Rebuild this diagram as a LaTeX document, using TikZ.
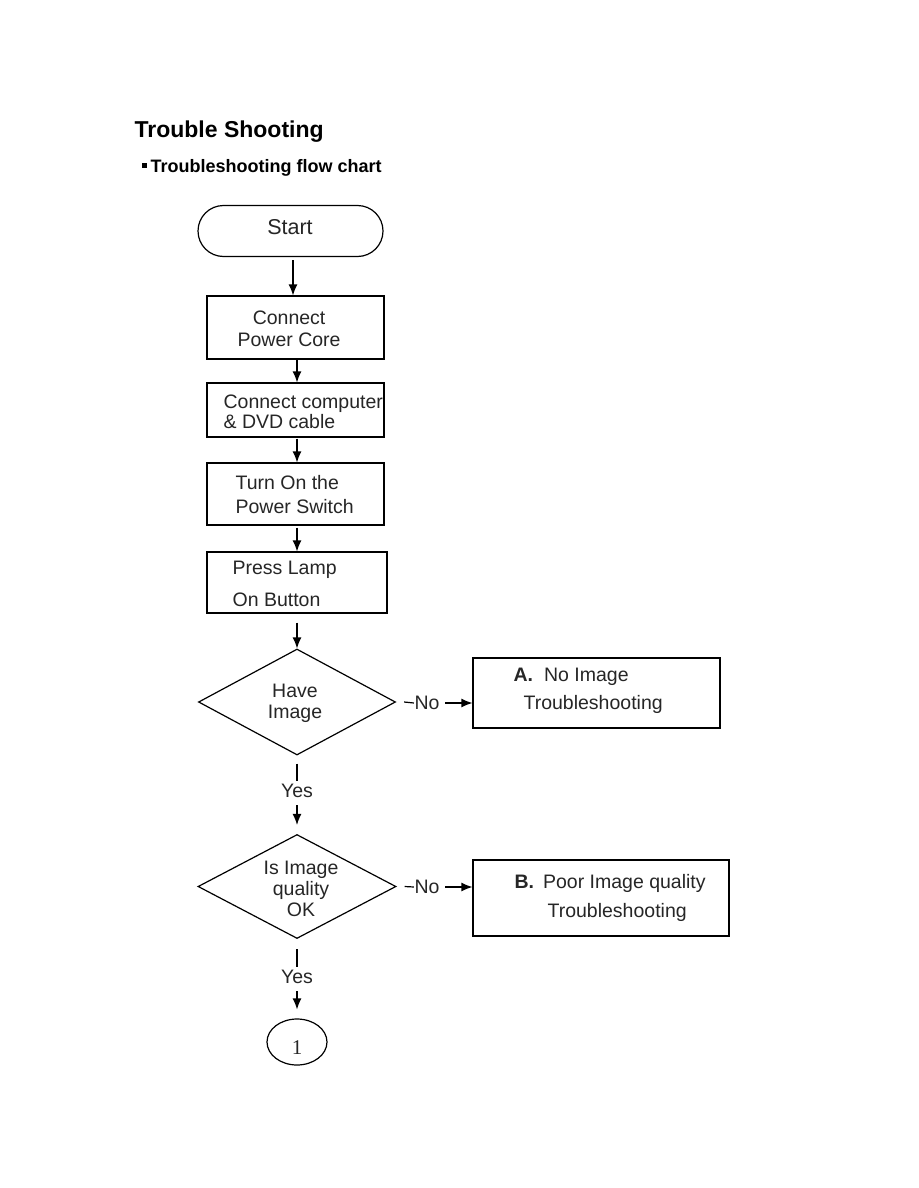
\documentclass[tikz,border=0pt]{standalone}
\usepackage{fontspec}
\setmainfont{Liberation Sans}
\newfontfamily\serifnum{Liberation Serif}
\usetikzlibrary{shapes.geometric,shapes.misc,arrows.meta}
\begin{document}
\begin{tikzpicture}[x=1pt,y=-1pt,line width=1.2pt,
  every node/.style={inner sep=0pt,font=\fontsize{19.5pt}{21pt}\selectfont,text=black!85},
  boxshape/.style={draw,rectangle,text=black},
  lbl/.style={anchor=west,align=left},
  arr/.style={-{Latex[length=11pt,width=9pt]}}]
\fill[white] (0,0) rectangle (918,1188);
\useasboundingbox (0,0) rectangle (918,1188);
% headings
\node[anchor=base west,text=black,font=\bfseries\fontsize{23pt}{27pt}\selectfont] (title) at (134,137) {Trouble Shooting};
\node[fill=black,minimum size=5pt] (bullet) at (144.5,165.5) {};
\node[anchor=base west,text=black,font=\bfseries\fontsize{18pt}{21pt}\selectfont] (sub) at (150,172) {Troubleshooting flow chart};
% shapes
\node[draw,rounded rectangle,minimum width=185,minimum height=51] (start) at (290.5,231) {};
\node[boxshape,minimum width=177,minimum height=63] (box1) at (295.5,327.5) {};
\node[boxshape,minimum width=177,minimum height=54] (box2) at (295.5,410) {};
\node[boxshape,minimum width=177,minimum height=62] (box3) at (295.5,494) {};
\node[boxshape,minimum width=180,minimum height=61] (box4) at (297,582.5) {};
\node[draw,diamond,minimum width=197,minimum height=106] (d1) at (297,702) {};
\node[draw,diamond,minimum width=198,minimum height=104] (d2) at (297,886.5) {};
\node[boxshape,minimum width=247,minimum height=70] (boxA) at (596.5,693) {};
\node[boxshape,minimum width=256,minimum height=76] (boxB) at (601,898) {};
\node[draw,ellipse,minimum width=60,minimum height=46] (ell) at (297,1042) {};
% texts
\node (tstart) at (290,227) {\fontsize{21.5pt}{24pt}\selectfont Start};
\node[anchor=west,align=center] (t1) at (237,329) {Connect\\[1pt]Power Core};
\node[lbl] (t2) at (223,412) {Connect computer\\[-1pt]\& DVD cable};
\node[lbl] (t3) at (235,495) {Turn On the\\[3pt]Power Switch};
\node[lbl] (t4) at (232,584) {Press Lamp\\[11pt]On Button};
\node[align=center] (td1) at (295,703) {Have\\Image};
\node[align=center] (td2) at (301,889) {Is Image\\quality\\OK};
\node[lbl] (tA) at (513,691) {\textbf{A.}\hspace{11pt}No Image\\[7pt]\hspace*{10pt}Troubleshooting};
\node[lbl] (tB) at (514,897.5) {\textbf{B.}\hspace{9pt}Poor Image quality\\[8pt]\hspace*{33pt}Troubleshooting};
\node (one) at (297,1048) {\serifnum\fontsize{21pt}{24pt}\selectfont 1};
\node (yes1) at (297,791) {Yes};
\node (yes2) at (297,977) {Yes};
\node (no1) at (427,703) {No};
\node (no2) at (427,887) {No};
% connectors
\draw[arr] ([xshift=2.5pt,yshift=-3pt]start.south) -- ([xshift=-2.5pt]box1.north);
\draw[arr] ([xshift=1.5pt]box1.south) -- ([xshift=1.5pt]box2.north);
\draw[arr] ([xshift=1.5pt,yshift=-1pt]box2.south) -- ([xshift=1.5pt]box3.north);
\draw[arr] ([xshift=1.5pt,yshift=-2pt]box3.south) -- (box4.north);
\draw[arr] ([yshift=-9pt]box4.south) -- (d1.north);
\draw ([yshift=-8pt]d1.south) -- ([yshift=3pt]yes1.north);
\draw[arr] ([yshift=-7pt]yes1.south) -- ([yshift=9pt]d2.north);
\draw ([yshift=-10pt]d2.south) -- ([yshift=3pt]yes2.north);
\draw[arr] ([yshift=-7pt]yes2.south) -- ([yshift=9pt]ell.north);
\draw ([xshift=8pt]d1.east) -- (no1.west);
\draw[arr] ([xshift=5pt]no1.east) -- (no1.east -| boxA.west);
\draw ([xshift=8pt]d2.east) -- (no2.west);
\draw[arr] ([xshift=5pt]no2.east) -- (no2.east -| boxB.west);
\end{tikzpicture}
\end{document}
